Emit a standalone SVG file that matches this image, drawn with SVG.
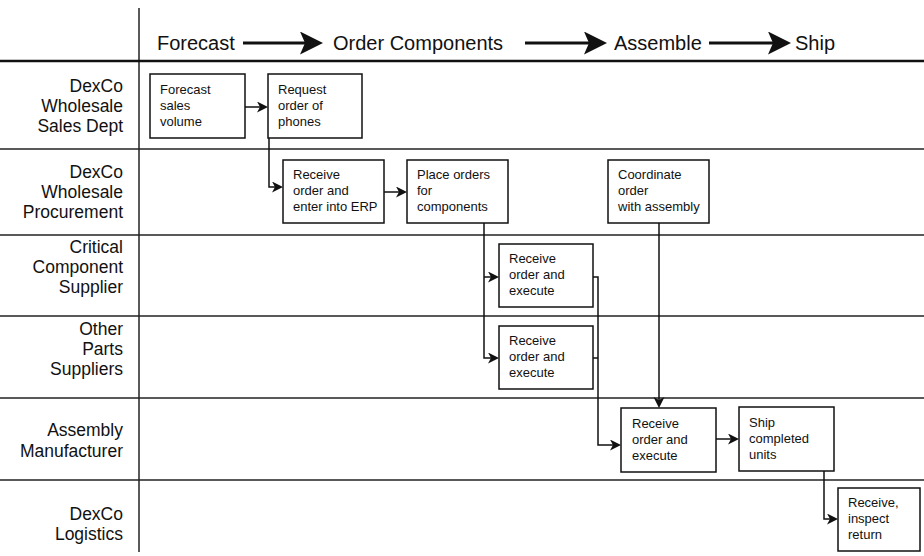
<svg xmlns="http://www.w3.org/2000/svg" width="924" height="556" viewBox="0 0 924 556">
  <style>
    .bg { fill: #ffffff; }
    .grid { stroke: #222; stroke-width: 1.5; fill: none; }
    .head { stroke: #111; stroke-width: 2.5; fill: none; }
    .phase { font-family: "Liberation Sans", Arial, sans-serif; font-size: 20px; fill: #111; }
    .lane { font-family: "Liberation Sans", Arial, sans-serif; font-size: 17.5px; fill: #111; text-anchor: end; }
    .box rect { fill: #ffffff; stroke: #111; stroke-width: 1.5; }
    .box text { font-family: "Liberation Sans", Arial, sans-serif; font-size: 13px; fill: #111; }
    .flow { stroke: #111; stroke-width: 3; fill: none; }
    .conn path { stroke: #111; stroke-width: 1.5; fill: none; }
  </style>
  <defs>
    <marker id="bigArrow" markerUnits="userSpaceOnUse" markerWidth="24" markerHeight="24" refX="13" refY="11.5" orient="auto">
      <path d="M0,0 L23,11.5 L0,23 L5,11.5 Z" fill="#111"/>
    </marker>
    <marker id="arrow" markerUnits="userSpaceOnUse" markerWidth="12" markerHeight="12" refX="8" refY="5.5" orient="auto">
      <path d="M0,0 L11,5.5 L0,11 L3,5.5 Z" fill="#111"/>
    </marker>
  </defs>

  <rect class="bg" x="0" y="0" width="924" height="556"/>

  <!-- swimlane grid -->
  <g id="grid">
    <line class="grid" x1="139" y1="8" x2="139" y2="552"/>
    <line class="head" x1="0" y1="61" x2="924" y2="61"/>
    <line class="grid" x1="0" y1="149" x2="924" y2="149"/>
    <line class="grid" x1="0" y1="235" x2="924" y2="235"/>
    <line class="grid" x1="0" y1="316" x2="924" y2="316"/>
    <line class="grid" x1="0" y1="398" x2="924" y2="398"/>
    <line class="grid" x1="0" y1="480" x2="924" y2="480"/>
  </g>

  <!-- process phases along the top -->
  <g id="phases">
    <text class="phase" x="157" y="50">Forecast</text>
    <line class="flow" x1="243" y1="43" x2="313" y2="43" marker-end="url(#bigArrow)"/>
    <text class="phase" x="333" y="50">Order Components</text>
    <line class="flow" x1="525" y1="43" x2="597" y2="43" marker-end="url(#bigArrow)"/>
    <text class="phase" x="614" y="50">Assemble</text>
    <line class="flow" x1="709" y1="43" x2="781" y2="43" marker-end="url(#bigArrow)"/>
    <text class="phase" x="795" y="50">Ship</text>
  </g>

  <!-- lane labels -->
  <g id="lanes">
    <text class="lane" x="123" y="92">DexCo</text>
    <text class="lane" x="123" y="112">Wholesale</text>
    <text class="lane" x="123" y="132">Sales Dept</text>

    <text class="lane" x="123" y="178">DexCo</text>
    <text class="lane" x="123" y="198">Wholesale</text>
    <text class="lane" x="123" y="218">Procurement</text>

    <text class="lane" x="123" y="253">Critical</text>
    <text class="lane" x="123" y="273">Component</text>
    <text class="lane" x="123" y="293">Supplier</text>

    <text class="lane" x="123" y="335">Other</text>
    <text class="lane" x="123" y="355">Parts</text>
    <text class="lane" x="123" y="375">Suppliers</text>

    <text class="lane" x="123" y="436">Assembly</text>
    <text class="lane" x="123" y="457">Manufacturer</text>

    <text class="lane" x="123" y="520">DexCo</text>
    <text class="lane" x="123" y="540">Logistics</text>
  </g>

  <!-- connectors -->
  <g id="connectors" class="conn">
    <path d="M245,107 H265" marker-end="url(#arrow)"/>
    <path d="M269,138 V187 H280" marker-end="url(#arrow)"/>
    <path d="M384,192 H404" marker-end="url(#arrow)"/>
    <path d="M484,223 V358 H496" marker-end="url(#arrow)"/>
    <path d="M484,277 H496" marker-end="url(#arrow)"/>
    <path d="M593,277 H598 V445 H618" marker-end="url(#arrow)"/>
    <path d="M593,358 H598"/>
    <path d="M659,223 V405" marker-end="url(#arrow)"/>
    <path d="M716,439 H736" marker-end="url(#arrow)"/>
    <path d="M824,471 V519 H835" marker-end="url(#arrow)"/>
  </g>

  <!-- activity boxes -->
  <g id="forecast-sales" class="box">
    <rect x="150" y="74" width="95" height="64"/>
    <text x="160" y="94">Forecast</text>
    <text x="160" y="110">sales</text>
    <text x="160" y="126">volume</text>
  </g>
  <g id="request-order" class="box">
    <rect x="268" y="74" width="94" height="64"/>
    <text x="278" y="94">Request</text>
    <text x="278" y="110">order of</text>
    <text x="278" y="126">phones</text>
  </g>
  <g id="receive-erp" class="box">
    <rect x="283" y="160" width="101" height="63"/>
    <text x="293" y="179">Receive</text>
    <text x="293" y="195">order and</text>
    <text x="293" y="211">enter into ERP</text>
  </g>
  <g id="place-orders" class="box">
    <rect x="407" y="160" width="101" height="63"/>
    <text x="417" y="179">Place orders</text>
    <text x="417" y="195">for</text>
    <text x="417" y="211">components</text>
  </g>
  <g id="coordinate-order" class="box">
    <rect x="608" y="160" width="101" height="63"/>
    <text x="618" y="179">Coordinate</text>
    <text x="618" y="195">order</text>
    <text x="618" y="211">with assembly</text>
  </g>
  <g id="critical-execute" class="box">
    <rect x="499" y="244" width="94" height="63"/>
    <text x="509" y="263">Receive</text>
    <text x="509" y="279">order and</text>
    <text x="509" y="295">execute</text>
  </g>
  <g id="parts-execute" class="box">
    <rect x="499" y="326" width="94" height="63"/>
    <text x="509" y="345">Receive</text>
    <text x="509" y="361">order and</text>
    <text x="509" y="377">execute</text>
  </g>
  <g id="assembly-execute" class="box">
    <rect x="621" y="408" width="95" height="64"/>
    <text x="632" y="428">Receive</text>
    <text x="632" y="444">order and</text>
    <text x="632" y="460">execute</text>
  </g>
  <g id="ship-units" class="box">
    <rect x="739" y="407" width="95" height="64"/>
    <text x="749" y="427">Ship</text>
    <text x="749" y="443">completed</text>
    <text x="749" y="459">units</text>
  </g>
  <g id="inspect-return" class="box">
    <rect x="838" y="488" width="82" height="63"/>
    <text x="848" y="507">Receive,</text>
    <text x="848" y="523">inspect</text>
    <text x="848" y="539">return</text>
  </g>
</svg>
